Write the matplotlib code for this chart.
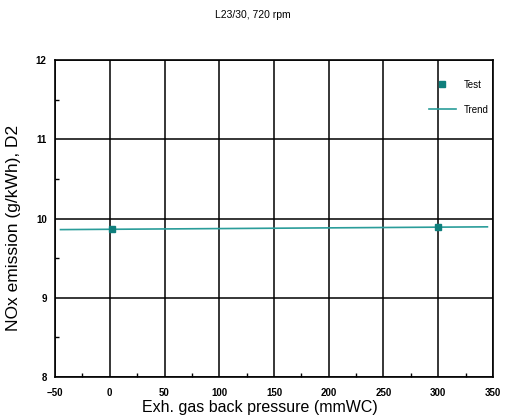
import matplotlib.pyplot as plt
from matplotlib.ticker import MultipleLocator

plt.rcParams['font.family'] = ['Liberation Sans', 'DejaVu Sans']

# Measured points and fitted trend
test_pressure = [2, 300]
test_nox = [9.87, 9.89]
trend_pressure = [-45, 345]
trend_nox = [9.86, 9.895]

teal = '#2a9d9a'

fig = plt.figure(figsize=(5.05, 4.19), dpi=100)
ax = fig.add_axes([0.109, 0.100, 0.867, 0.757])

ax.plot(trend_pressure, trend_nox, color=teal, linewidth=1.2, label='Trend', zorder=3)
ax.plot(test_pressure, test_nox, linestyle='none', marker='s', markersize=4.5,
        color='#0f7f7c', label='Test', zorder=4)

ax.set_xlim(-50, 350)
ax.set_ylim(8, 12)
ax.xaxis.set_major_locator(MultipleLocator(50))
ax.xaxis.set_minor_locator(MultipleLocator(25))
ax.yaxis.set_major_locator(MultipleLocator(1))
ax.yaxis.set_minor_locator(MultipleLocator(0.5))
ax.grid(True, which='major', color='black', linewidth=1.1)
ax.tick_params(which='both', direction='in', labelsize=7, length=3, width=1)
ax.tick_params(which='major', length=0, pad=6)
ax.tick_params(axis='x', which='major', pad=8)
for lbl in ax.get_xticklabels() + ax.get_yticklabels():
    lbl.set_fontweight('bold')
for s in ax.spines.values():
    s.set_linewidth(1.2)

ax.set_xlabel('Exh. gas back pressure (mmWC)', fontsize=11.5)
ax.set_ylabel('NOx emission (g/kWh), D2', fontsize=12.5)
ax.xaxis.set_label_coords(0.468, -0.072)
ax.yaxis.set_label_coords(-0.078, 0.47)
fig.suptitle('L23/30, 720 rpm', fontsize=7.5, y=0.975)

handles, labels = ax.get_legend_handles_labels()
ax.legend(handles[::-1], labels[::-1], loc='upper right', frameon=False, fontsize=7,
          handlelength=2.8, bbox_to_anchor=(1.01, 0.965), labelspacing=1.55)

fig.savefig('out.png', dpi=100)
